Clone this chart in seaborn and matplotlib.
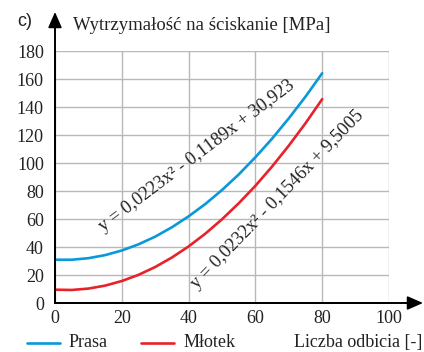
import numpy as np
import pandas as pd
import seaborn as sns
import matplotlib.pyplot as plt
from matplotlib.lines import Line2D

# ---- data ----
x_vals = [0, 5, 10, 15, 20, 25, 30, 35, 40, 45, 50, 55, 60, 65, 70, 75, 80]
prasa = [30.9, 30.9, 32.0, 34.2, 37.5, 41.9, 47.4, 54.1, 61.9, 70.7, 80.7,
         91.8, 104.1, 117.4, 131.9, 147.4, 164.1]
mlotek = [9.5, 9.3, 10.3, 12.4, 15.7, 20.1, 25.7, 32.5, 40.4, 49.5, 59.8,
          71.2, 83.7, 97.5, 112.4, 128.4, 145.6]
series_names = ["Prasa", "Młotek"]
x_ticks = [0, 20, 40, 60, 80, 100]
y_ticks = [0, 20, 40, 60, 80, 100, 120, 140, 160, 180]
eq_prasa = "y = 0,0223x² - 0,1189x + 30,923"
eq_mlotek = "y = 0,0232x² - 0,1546x + 9,5005"
y_title = "Wytrzymałość na ściskanie [MPa]"
x_title = "Liczba odbicia [-]"
panel = "c)"

colors = {"Prasa": "#0a98d8", "Młotek": "#e8222a"}

df = pd.DataFrame({
    "x": x_vals * 2,
    "y": prasa + mlotek,
    "series": [series_names[0]] * len(x_vals) + [series_names[1]] * len(x_vals),
})

sns.set_theme(style="white")
plt.rcParams["font.family"] = ["Liberation Serif", "DejaVu Serif"]

W, H = 424, 352
fig = plt.figure(figsize=(W / 100, H / 100), dpi=100)
L, R, B, T = 55, 389, 303, 51
ax = fig.add_axes([L / W, 1 - B / H, (R - L) / W, (B - T) / H])

sns.lineplot(data=df, x="x", y="y", hue="series", palette=colors, ax=ax,
             linewidth=1.9, legend=False, sort=False)

ax.set_xlim(0, 100)
ax.set_ylim(0, 180)
ax.set_xticks(x_ticks)
ax.set_yticks(y_ticks)
ax.set_xlabel("")
ax.set_ylabel("")
ax.grid(True, color="#b8b8b8", linewidth=1.0)
ax.set_axisbelow(True)
for s in ["top", "right"]:
    ax.spines[s].set_visible(False)
for s in ["left", "bottom"]:
    ax.spines[s].set_color("black")
    ax.spines[s].set_linewidth(1.4)
    ax.spines[s].set_zorder(5)
ax.tick_params(axis="both", length=0, labelsize=13, colors="#222222")
for lab in ax.get_xticklabels() + ax.get_yticklabels():
    lab.set_family(["Liberation Serif"])
ax.tick_params(axis="y", pad=8)
ax.tick_params(axis="x", pad=5)

# axis arrows
fig.add_artist(Line2D([L / W, L / W], [1 - B / H, 1 - 22 / H], color="black", lw=1.4))
fig.add_artist(Line2D([L / W, 414 / W], [1 - B / H, 1 - B / H], color="black", lw=1.4))
ax.annotate("", xy=(L / W, 1 - 12 / H), xytext=(L / W, 1 - 30 / H),
            xycoords="figure fraction", textcoords="figure fraction",
            arrowprops=dict(arrowstyle="-|>,head_length=0.8,head_width=0.35",
                            color="black", lw=1.2, shrinkA=0, shrinkB=0))
ax.annotate("", xy=(423 / W, 1 - B / H), xytext=(405 / W, 1 - B / H),
            xycoords="figure fraction", textcoords="figure fraction",
            arrowprops=dict(arrowstyle="-|>,head_length=0.8,head_width=0.35",
                            color="black", lw=1.2, shrinkA=0, shrinkB=0))

# titles
fig.text(17 / W, 1 - 21 / H, panel, family=["Liberation Sans"], fontsize=13,
         va="center", ha="left", color="#222222")
fig.text(73 / W, 1 - 25 / H, y_title, fontsize=13.5, va="center", ha="left",
         color="#222222")

# equations
ax.text(14.4, 50.5, eq_prasa, rotation=37, rotation_mode="anchor", fontsize=13.3,
        ha="left", va="baseline", color="#222222")
ax.text(42.6, 9.8, eq_mlotek, rotation=46, rotation_mode="anchor", fontsize=13.3,
        ha="left", va="baseline", color="#222222")

# bottom legend
ly = 1 - 343 / H
fig.add_artist(Line2D([27 / W, 60 / W], [ly, ly], color=colors["Prasa"], lw=1.9))
fig.text(69 / W, 1 - 347 / H, series_names[0], fontsize=13, va="baseline",
         ha="left", color="#222222")
fig.add_artist(Line2D([141 / W, 174 / W], [ly, ly], color=colors["Młotek"], lw=1.9))
fig.text(184 / W, 1 - 347 / H, series_names[1], fontsize=13, va="baseline",
         ha="left", color="#222222")
fig.text(294 / W, 1 - 347 / H, x_title, fontsize=13, va="baseline",
         ha="left", color="#222222")

fig.savefig("out.png", dpi=100)
